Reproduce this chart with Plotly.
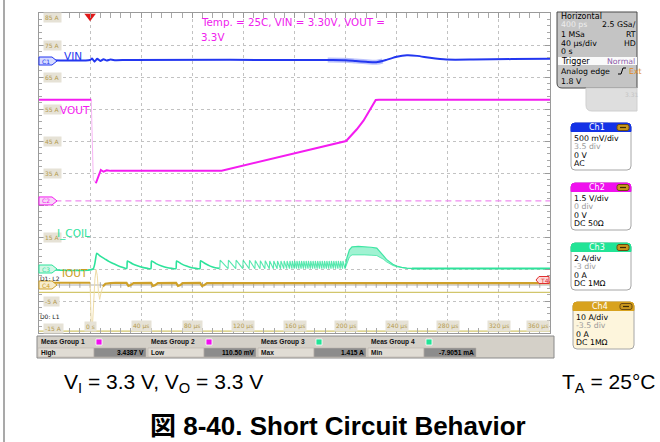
import numpy as np
import plotly.graph_objects as go

# ---------------------------------------------------------------- settings
W, H = 660, 442
PL, PR, PT, PB = 39, 550, 13, 333          # graticule box in page pixels

ch_names = ["Ch1", "Ch2", "Ch3", "Ch4"]
ch_scale = [0.5, 1.5, 2.0, 10.0]            # units per division
ch_offset_div = [3.5, 0.0, -3.0, -3.5]      # ground position, div from centre
ch_scale_text = ["500 mV/div", "1.5 V/div", "2 A/div", "10 A/div"]
ch_offset_text = ["3.5 div", "0 div", "-3 div", "-3.5 div"]
ch_level_text = ["0 V", "0 V", "0 A", "0 A"]
ch_coupling_text = ["AC", "DC 50Ω", "DC 1MΩ", "DC 1MΩ"]
ch_colors = ["#2337f0", "#f41cf0", "#2de39b", "#cfa12a"]
ch_header_colors = ["#1432e6", "#f010ee", "#22e496", "#d8a21e"]
ch_body_colors = ["#ffffff", "#ffffff", "#ffffff", "#fdf5dc"]

time_range = [-40, 360]
time_tick_vals = [0, 40, 80, 120, 160, 200, 240, 280, 320, 360]
time_tick_text = ["0 s", "40 µs", "80 µs", "120 µs", "160 µs", "200 µs",
                  "240 µs", "280 µs", "320 µs", "360 µs"]

amp_label_vals = [85, 75, 65, 55, 45, 35, 15, -5, -15]
amp_label_text = ["85 A", "75 A", "65 A", "55 A", "45 A", "35 A", "15 A", "-5 A", "-15 A"]

# ---------------------------------------------------------------- waveforms
# VIN, Ch1 (AC coupled, V)
vin_t = [-40, 0, 1.5, 3.5, 5.5, 8, 10.5, 13, 16, 20, 30, 190, 200, 208, 216, 224,
         232, 240, 248, 256, 266, 279, 300, 330, 360]
vin_v = [0.016, 0.016, 0.04, -0.01, 0.035, 0.0, 0.028, 0.008, 0.022, 0.012, 0.016,
         0.016, 0.012, 0.0, -0.012, -0.02, 0.018, 0.066, 0.089, 0.08, 0.05, 0.022,
         0.022, 0.03, 0.036]
# switching noise riding on VIN during recovery
vin_noise_t = [186, 200, 208, 216, 224, 229]
vin_noise_v = [0.016, 0.012, 0.0, -0.012, -0.02, 0.0]

# VOUT, Ch2 (V)
vout_t = [-40, 0.9, 2.5, 4.5, 6.5, 8.4, 10.5, 13, 16, 20, 60, 103, 200.4, 203.5,
          208.8, 214, 219.2, 223.6, 226, 360]
vout_v = [3.4387, 3.4387, -0.3, -0.48, -0.2, 0.14, 0.06, 0.13, 0.10, 0.1105,
          0.1105, 0.1105, 1.5, 1.70, 2.05, 2.45, 2.95, 3.42, 3.4387, 3.4387]

# I_COIL, Ch3 (A): start-up pulses
coil_t = [-40, 2.3, 5.2, 8, 11.7, 15, 18, 21, 24.5, 28.7,
          29.2, 33, 37, 41, 45, 47.6,
          48.1, 52, 56, 60, 64, 67.2,
          67.7, 71.5, 75.5, 79.5, 83, 86,
          86.5, 90, 94, 98, 101.2]
coil_i = [0, 0, 0.98, 0.8, 0.62, 0.46, 0.34, 0.24, 0.13, 0.03,
          0.5, 0.33, 0.2, 0.1, 0.04, 0.02,
          0.5, 0.32, 0.19, 0.09, 0.04, 0.02,
          0.5, 0.32, 0.18, 0.08, 0.04, 0.02,
          0.52, 0.34, 0.18, 0.08, 0.04]
# I_COIL hiccup pulses (start times, µs) and their peaks (A)
saw_t = [101.5, 108, 114, 119.5, 124.5, 129, 133, 136.8, 140.3, 143.5, 146.4, 149.1,
         151.6, 153.9, 156.1, 158.0, 159.8, 161.6, 163.4, 165.2, 167.0, 168.8, 170.6,
         172.4, 174.2, 176.0, 177.8, 179.6, 181.4, 183.2, 185.0, 186.8, 188.6, 190.4,
         192.2, 194.0, 195.8, 197.6]
saw_peak = [0.55, 0.55, 0.55, 0.55, 0.55, 0.53, 0.52, 0.52, 0.5, 0.5, 0.5, 0.5,
            0.5, 0.5, 0.5, 0.5, 0.5, 0.5, 0.5, 0.5, 0.5, 0.5, 0.5,
            0.5, 0.5, 0.5, 0.5, 0.5, 0.5, 0.5, 0.5, 0.5, 0.5, 0.5,
            0.5, 0.5, 0.5, 0.5]
saw_base = 0.02
# recovery hump envelope (A)
hump_t = [199.6, 201, 203, 205, 210, 215, 220, 224.4, 227, 229.4, 232, 234.8, 237,
          240, 244, 248, 252]
hump_hi = [0.1, 0.7, 1.2, 1.38, 1.415, 1.4, 1.36, 1.31, 1.1, 0.85, 0.6, 0.44, 0.3,
           0.19, 0.1, 0.06, 0.04]
hump_lo = [0.02, 0.35, 0.75, 0.88, 0.9, 0.88, 0.86, 0.84, 0.72, 0.62, 0.45, 0.32,
           0.22, 0.14, 0.07, 0.04, 0.03]
coil_tail_t = [252, 360]
coil_tail_i = [0.03, 0.03]

# IOUT, Ch4 (A)
iout_t = [-40, 0, 0.5, 1.0, 1.8, 2.8, 3.8, 4.7, 5.6, 6.5, 7.5, 8.5, 10, 12, 16, 20,
          28.5, 30, 31.5, 34, 47.7, 49.2, 50.7, 53, 67.3, 68.8, 70.3, 72.5,
          86.1, 87.6, 89.1, 91.5, 100, 360]
iout_i = [0.7, 0.7, -6, -14, -13, -5, 2, 4.8, 3, -2, -4.5, -2.5, -0.5, 0.4, 0.6, 0.7,
          0.65, -0.3, -0.1, 0.6, 0.65, -0.3, -0.1, 0.6, 0.65, -0.3, -0.1, 0.6,
          0.65, -0.3, -0.1, 0.6, 0.6, 0.6]

# digital channel low levels, drawn on the Ch4 graticule scale
digital_levels = [-2.3, -14.4]
digital_names = ["D1: L2", "D0: L1"]
c2_marker_level = -1.31      # Ch2 marker / dashed reference (V)

meas_groups = ["Meas Group 1", "Meas Group 2", "Meas Group 3", "Meas Group 4"]
meas_group_colors = ["#f010ee", "#f010ee", "#22e496", "#22e496"]
meas_names = ["High", "Low", "Max", "Min"]
meas_values = ["3.4387 V", "110.50 mV", "1.415 A", "-7.9051 mA"]


# ---------------------------------------------------------------- helpers
def fx(px):
    return (px - PL) / (PR - PL)


def fy(py):
    return (PB - py) / (PB - PT)


def ch_range(i):
    return [(-5 - ch_offset_div[i]) * ch_scale[i], (5 - ch_offset_div[i]) * ch_scale[i]]


def rrect(x0, y0, x1, y1, r=(3, 3, 3, 3)):
    tl, tr, br, bl = r
    p = [f"M{fx(x0 + tl)},{fy(y0)}", f"L{fx(x1 - tr)},{fy(y0)}",
         f"Q{fx(x1)},{fy(y0)} {fx(x1)},{fy(y0 + tr)}",
         f"L{fx(x1)},{fy(y1 - br)}", f"Q{fx(x1)},{fy(y1)} {fx(x1 - br)},{fy(y1)}",
         f"L{fx(x0 + bl)},{fy(y1)}", f"Q{fx(x0)},{fy(y1)} {fx(x0)},{fy(y1 - bl)}",
         f"L{fx(x0)},{fy(y0 + tl)}", f"Q{fx(x0)},{fy(y0)} {fx(x0 + tl)},{fy(y0)}", "Z"]
    return " ".join(p)


shapes = []
annotations = []


def box(x0, y0, x1, y1, fill, line="rgba(0,0,0,0)", lw=1, r=None):
    if r is None:
        shapes.append(dict(type="rect", xref="paper", yref="paper", x0=fx(x0), x1=fx(x1),
                           y0=fy(y1), y1=fy(y0), fillcolor=fill,
                           line=dict(color=line, width=lw), layer="above"))
    else:
        shapes.append(dict(type="path", xref="paper", yref="paper", path=rrect(x0, y0, x1, y1, r),
                           fillcolor=fill, line=dict(color=line, width=lw), layer="above"))


def text(x, y, s, size=8, color="#000000", anchor="left", family="DejaVu Sans", bold=False,
         bg=None):
    annotations.append(dict(xref="paper", yref="paper", x=fx(x), y=fy(y), text=s,
                            showarrow=False, xanchor=anchor, yanchor="middle",
                            font=dict(size=size, color=color, family=family,
                                      weight="bold" if bold else "normal"),
                            bgcolor=bg, borderpad=0))


# ---------------------------------------------------------------- traces
fig = go.Figure()
axes = ["y2", "y3", "y4", "y"]

# digital channels and Ch4 reference
for lvl in digital_levels:
    fig.add_trace(go.Scatter(x=time_range, y=[lvl, lvl], mode="lines", yaxis="y",
                             line=dict(color="#d2c66c", width=1.2), hoverinfo="skip"))
fig.add_trace(go.Scatter(x=time_range, y=[0, 0], mode="lines", yaxis="y",
                         line=dict(color="#b0b0b0", width=1), hoverinfo="skip"))
tick_t = np.arange(-40, 361, 8)
fig.add_trace(go.Scatter(x=tick_t, y=np.zeros_like(tick_t), mode="markers", yaxis="y",
                         marker=dict(symbol="line-ns", size=4,
                                     line=dict(color="#a8a8a8", width=1)),
                         hoverinfo="skip"))
# Ch2 dashed reference
fig.add_trace(go.Scatter(x=[-35, 360], y=[c2_marker_level] * 2, mode="lines", yaxis="y3",
                         line=dict(color="#f08cf0", width=1.2, dash="6px,4px"),
                         hoverinfo="skip"))

# IOUT (fast edge drawn faint)
it = np.array(iout_t, dtype=float)
ii = np.array(iout_i, dtype=float)
pre = it <= 0
fast = (it >= 0) & (it <= 10)
post = it >= 10
fig.add_trace(go.Scatter(x=it[fast], y=ii[fast], mode="lines", yaxis="y",
                         line=dict(color="#efdca6", width=1), hoverinfo="skip"))
for m in (pre, post):
    fig.add_trace(go.Scatter(x=it[m], y=ii[m], mode="lines", yaxis="y",
                             line=dict(color=ch_colors[3], width=2.2), hoverinfo="skip"))

# I_COIL
fig.add_trace(go.Scatter(x=coil_t, y=coil_i, mode="lines", yaxis="y4",
                         line=dict(color=ch_colors[2], width=1.6, shape="spline",
                                   smoothing=0.5), hoverinfo="skip"))
sx, sy = [], []
for k, t0 in enumerate(saw_t):
    sx += [t0, t0 + 0.3]
    sy += [saw_base, saw_peak[k]]
sx.append(hump_t[0])
sy.append(saw_base)
fig.add_trace(go.Scatter(x=sx, y=sy, mode="lines", yaxis="y4",
                         line=dict(color=ch_colors[2], width=1.1), opacity=0.8,
                         hoverinfo="skip"))
fig.add_trace(go.Scatter(x=hump_t, y=hump_lo, mode="lines", yaxis="y4",
                         line=dict(color="rgba(45,227,155,0.7)", width=1), hoverinfo="skip"))
fig.add_trace(go.Scatter(x=hump_t, y=hump_hi, mode="lines", yaxis="y4", fill="tonexty",
                         fillcolor="rgba(45,227,155,0.45)",
                         line=dict(color="rgba(45,227,155,0.9)", width=1.2), hoverinfo="skip"))
fig.add_trace(go.Scatter(x=coil_tail_t, y=coil_tail_i, mode="lines", yaxis="y4",
                         line=dict(color=ch_colors[2], width=2), hoverinfo="skip"))

# VOUT (fast edge drawn faint)
vt = np.array(vout_t, dtype=float)
vv = np.array(vout_v, dtype=float)
vfast = (vt >= 0.9) & (vt <= 4.5)
fig.add_trace(go.Scatter(x=vt[vfast], y=vv[vfast], mode="lines", yaxis="y3",
                         line=dict(color="#f8b4f6", width=1), hoverinfo="skip"))
for m in (vt <= 0.9, vt >= 4.5):
    fig.add_trace(go.Scatter(x=vt[m], y=vv[m], mode="lines", yaxis="y3",
                             line=dict(color=ch_colors[1], width=2), hoverinfo="skip"))

# VIN, with its noisy stretch drawn as a soft wider band underneath
fig.add_trace(go.Scatter(x=vin_noise_t, y=vin_noise_v, mode="lines", yaxis="y2",
                         line=dict(color="rgba(60,80,245,0.35)", width=5, shape="spline"),
                         hoverinfo="skip"))
fig.add_trace(go.Scatter(x=vin_t, y=vin_v, mode="lines", yaxis="y2",
                         line=dict(color=ch_colors[0], width=2, shape="spline", smoothing=0.6),
                         hoverinfo="skip"))

# trigger position marker
fig.add_trace(go.Scatter(x=[0], y=[84], mode="markers", yaxis="y", cliponaxis=False,
                         marker=dict(symbol="triangle-down", size=10, color="#e01818"),
                         hoverinfo="skip"))

# ---------------------------------------------------------------- graticule
axis_common = dict(showgrid=True, gridcolor="#c2c2c2", griddash="dot", gridwidth=1,
                   zeroline=False, showline=True, linecolor="#9a9a9a", linewidth=1,
                   mirror="allticks", ticks="inside", ticklen=5, tickcolor="#9a9a9a",
                   showticklabels=False, fixedrange=True)

fig.update_layout(
    width=W, height=H,
    margin=dict(l=PL, r=W - PR, t=PT, b=H - PB, pad=0),
    paper_bgcolor="white", plot_bgcolor="white", showlegend=False,
    xaxis=dict(range=time_range, tick0=-40, dtick=40,
               minor=dict(dtick=8, tick0=-40, ticks="inside", ticklen=3, tickcolor="#a8a8a8"),
               **axis_common),
    yaxis=dict(range=ch_range(3), tick0=-15, dtick=10,
               minor=dict(dtick=2, tick0=-15, ticks="inside", ticklen=3, tickcolor="#a8a8a8"),
               **axis_common),
    yaxis2=dict(range=ch_range(0), overlaying="y", visible=False, fixedrange=True),
    yaxis3=dict(range=ch_range(1), overlaying="y", visible=False, fixedrange=True),
    yaxis4=dict(range=ch_range(2), overlaying="y", visible=False, fixedrange=True),
)

# graticule labels
for v, s in zip(amp_label_vals, amp_label_text):
    shift = -4 if v == 85 else (5 if v == -15 else 0)
    annotations.append(dict(xref="paper", yref="y", x=fx(43), y=v, yshift=shift, text=s,
                            showarrow=False, xanchor="left", yanchor="middle",
                            font=dict(size=6, color="#b49a4e", family="DejaVu Sans"),
                            bgcolor="#e6e2d6", borderpad=1))
for v, s in zip(time_tick_vals, time_tick_text):
    annotations.append(dict(xref="x", yref="paper", x=v, y=fy(326), text=s,
                            showarrow=False, xanchor="center" if v < 360 else "right",
                            yanchor="middle",
                            font=dict(size=6, color="#b49a4e", family="DejaVu Sans"),
                            bgcolor="#e6e2d6", borderpad=1))

# channel ground markers
marker_fill = ["#d6dbff", "#f8d6f8", "#d2f7e6", "#f6ecce"]
marker_lvls = [0.0, c2_marker_level, 0.0, 0.0]
for i in range(4):
    shapes.append(dict(type="path", xref="paper", yref=axes[i], xsizemode="pixel",
                       ysizemode="pixel", xanchor=0, yanchor=marker_lvls[i],
                       path="M0,-4 L13,-4 L18,0 L13,4 L0,4 Z",
                       fillcolor=marker_fill[i], line=dict(color=ch_colors[i], width=1),
                       layer="above"))
    annotations.append(dict(xref="paper", yref=axes[i], x=fx(46), y=marker_lvls[i],
                            text="C" + str(i + 1), showarrow=False, xanchor="center",
                            yanchor="middle",
                            font=dict(size=6, color=ch_colors[i], family="DejaVu Sans")))

# trace names
text(63, 56, "VIN", 10.5, ch_colors[0])
text(59, 110, "VOUT", 10.5, ch_colors[1])
text(56, 233, "I_COIL", 10.5, ch_colors[2])
text(61, 273, "IOUT", 10.5, "#c99d22")
text(39, 278, digital_names[0], 6, "#202020")
text(39, 316, digital_names[1], 6, "#202020")
text(200, 22, "Temp. = 25C, VIN = 3.30V, VOUT =", 10.3, "#f020ee")
text(200, 37, "3.3V", 10.3, "#f020ee")

# Ch4 trigger tag on the right edge
shapes.append(dict(type="path", xref="paper", yref="paper", xsizemode="pixel",
                   ysizemode="pixel", xanchor=1, yanchor=fy(280),
                   path="M-11,-3.5 L-1,-3.5 L-1,3.5 L-11,3.5 L-14,0 Z",
                   fillcolor="#ffd8d8", line=dict(color="#e03030", width=1), layer="above"))
text(544, 280, "T4", 6, "#e03030", anchor="center")

# ---------------------------------------------------------------- side panel
box(557, 12, 637, 88, "#c4c4c4", "#4a4a4a", 1, r=(0, 0, 0, 5))
box(558, 57, 637, 65, "#fafafa")
text(560, 16, "Horizontal", 8, "#000000")
text(560, 25, "400 ps", 7.8, "#eeeeee")
text(637, 25, "2.5 GSa/", 7.8, "#000000", anchor="right")
text(560, 34, "1 MSa", 7.8)
text(637, 34, "RT", 7.8, anchor="right")
text(560, 43, "40 µs/div", 7.8)
text(637, 43, "HD", 7.8, anchor="right")
text(560, 52, "0 s", 7.8)
text(560, 61, "Trigger", 8, "#000000")
text(606, 61, "Normal", 7.8, "#8a5aa8")
text(560, 71, "Analog edge", 7.8)
shapes.append(dict(type="path", xref="paper", yref="paper",
                   path=f"M{fx(618)},{fy(74)} L{fx(621)},{fy(74)} L{fx(623)},{fy(68)} "
                        f"L{fx(626)},{fy(68)}",
                   line=dict(color="#000000", width=1), layer="above"))
text(628, 71, "Ext", 7.8, "#e08a20")
text(560, 81, "1.8 V", 7.8)
box(586, 88, 637, 111, "#dedede", "#cfcfcf", 1, r=(0, 0, 0, 6))
text(624, 94, "3.31", 6, "#c4c4c4")

ch_box_x = [(571, 631), (571, 631), (571, 631), (573, 634)]
ch_box_y = [(123, 170), (183, 230), (243, 290), (302, 349)]
for i in range(4):
    x0, x1 = ch_box_x[i]
    y0, y1 = ch_box_y[i]
    box(x0, y0, x1, y1, ch_body_colors[i], "#a6a6a6", 1, r=(4, 4, 4, 4))
    box(x0, y0, x1, y0 + 8.5, ch_header_colors[i], ch_header_colors[i], 1, r=(4, 4, 0, 0))
    text((x0 + x1) / 2 - 4, y0 + 4.5, ch_names[i], 8, "#ffffff", anchor="center")
    box(x1 - 14, y0 + 1.5, x1 - 2, y0 + 7.5, "#c8961e", "#6a4a10", 1, r=(2, 2, 2, 2))
    shapes.append(dict(type="line", xref="paper", yref="paper", x0=fx(x1 - 11), x1=fx(x1 - 5),
                       y0=fy(y0 + 4.5), y1=fy(y0 + 4.5),
                       line=dict(color="#3a2a08", width=1.2), layer="above"))
    text(x0 + 2, y0 + 15, ch_scale_text[i], 7.8)
    text(x0 + 2, y0 + 23.5, ch_offset_text[i], 7.8, "#9a9a9a")
    text(x0 + 2, y0 + 32, ch_level_text[i], 7.8)
    text(x0 + 2, y0 + 40.5, ch_coupling_text[i], 7.8)

# ---------------------------------------------------------------- measurements
box(37, 336, 554, 358, "#d4d0c8", "#8a8a8a", 1)
for k in range(4):
    gx = 38 + 110 * k
    text(gx + 2, 342, meas_groups[k], 6.6, "#111111", family="Liberation Sans", bold=True)
    box(gx + 58, 339, gx + 64, 345, meas_group_colors[k], "#ffffff", 0.8)
    box(gx, 348, gx + 56, 357, "#e0dcd4", "#b8b4ac", 0.6)
    box(gx + 56, 348, gx + 108, 357, "#8c8c8c", "#b8b4ac", 0.6)
    text(gx + 2, 352.5, meas_names[k], 6.6, "#111111", family="Liberation Sans", bold=True)
    text(gx + 107, 352.5, meas_values[k], 6.6, "#000000", anchor="right",
         family="Liberation Sans", bold=True)

# ---------------------------------------------------------------- caption
text(63, 383, "V<sub>I</sub> = 3.3 V, V<sub>O</sub> = 3.3 V", 21, "#000000",
     family="Liberation Sans")
text(656, 383, "T<sub>A</sub> = 25°C", 21, "#000000", anchor="right", family="Liberation Sans")
text(338, 426, "図 8-40. Short Circuit Behavior", 26, "#000000", anchor="center",
     family="Liberation Sans, Noto Sans CJK JP", bold=True)

# page frame line
shapes.append(dict(type="line", xref="paper", yref="paper", x0=fx(4), x1=fx(4),
                   y0=fy(0), y1=fy(442), line=dict(color="#8c8c8c", width=1.5),
                   layer="above"))

fig.update_layout(shapes=shapes, annotations=annotations)
fig.write_html("out.html")
